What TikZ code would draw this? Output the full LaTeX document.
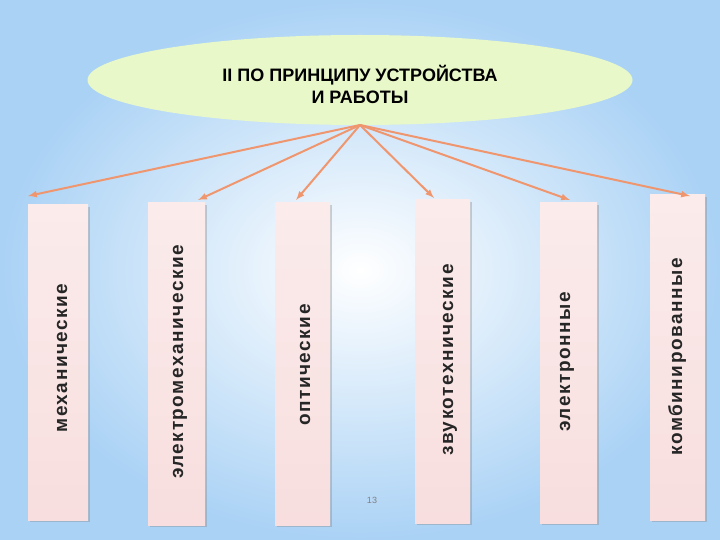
\documentclass[tikz,border=0pt]{standalone}
\usepackage{fontspec}
\setmainfont{Liberation Sans}
\usetikzlibrary{shadows,shapes.geometric}
\definecolor{bgblue}{RGB}{170,210,245}
\definecolor{ellfill}{RGB}{232,248,200}
\definecolor{boxpink}{RGB}{248,222,222}
\definecolor{arr}{RGB}{240,150,110}
\tikzset{
 cat/.style={draw=none,top color=boxpink!60,bottom color=boxpink,drop shadow={opacity=0.35,shadow xshift=2pt,shadow yshift=-2pt}},
 lab/.style={rotate=90,font=\bfseries\fontsize{19}{22}\selectfont\addfontfeature{LetterSpace=8},text=black!85},
 conn/.style={draw=arr,line width=2pt,-latex}
}
\begin{document}
\begin{tikzpicture}[x=1pt,y=-1pt]
\useasboundingbox (0,0) rectangle (720,540);
\shade[inner color=white,outer color=bgblue] (0,0) rectangle (720,540);
\node[draw=none,fill=ellfill,ellipse,minimum width=545,minimum height=90] (top) at (360,80) {};
\node[align=center,font=\bfseries\fontsize{18}{22}\selectfont] (title) at (360,84) {II ПО ПРИНЦИПУ УСТРОЙСТВА\\И РАБОТЫ};
\coordinate (src) at (360,125);
\fill[cat] (28,205) rectangle (88,520);
\fill[cat] (148,203) rectangle (205,525);
\fill[cat] (275,203) rectangle (330,525);
\fill[cat] (415,200) rectangle (470,523);
\fill[cat] (540,203) rectangle (597,523);
\fill[cat] (650,195) rectangle (705,520);
\node[lab] (b1) at (62,358) {механические};
\node[lab] (b2) at (180,362) {электромеханические};
\node[lab] (b3) at (305,365) {оптические};
\node[lab] (b4) at (450,360) {звукотехнические};
\node[lab] (b5) at (567,362) {электронные};
\node[lab] (b6) at (677,357) {комбинированные};
\coordinate (t1) at (28,196);
\coordinate (t2) at (198,200);
\coordinate (t3) at (296,200);
\coordinate (t4) at (434,198);
\coordinate (t5) at (570,200);
\coordinate (t6) at (690,196);
\foreach \t in {t1,t2,t3,t4,t5,t6} \draw[conn] (src) -- (\t);
\node[font=\small,text=gray] (pg) at (372,500) {13};
\end{tikzpicture}
\end{document}
